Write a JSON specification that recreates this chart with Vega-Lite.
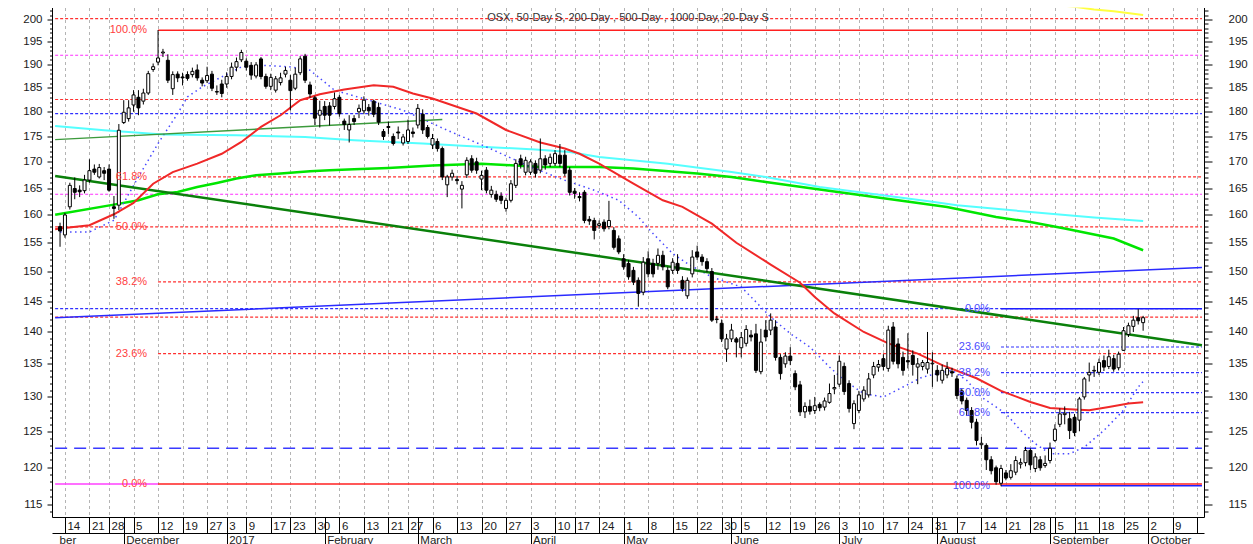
{
"$schema":"https://vega.github.io/schema/vega-lite/v6.json",
"width":1152,"height":509.5,
"autosize":{"type":"none"},
"padding":{"left":52,"top":7.5,"right":49,"bottom":27},
"background":"white",
"title":{"text":"OSX, 50-Day S, 200-Day , 500-Day , 1000-Day, 20-Day S","anchor":"middle","frame":"group","offset":-9,"dy":12,"baseline":"middle","fontSize":11,"font":"Liberation Sans","fontWeight":"normal","color":"#333333"},
"config":{"font":"Liberation Sans","view":{"stroke":null},"axis":{"labelFont":"Liberation Sans","labelFontSize":11.5,"labelColor":"#1a1a1a","tickColor":"#000000","domainColor":"#000000","labelOverlap":false,"labelFlush":false,"labelBound":false}},
"datasets":{
"candles":[
{"i":-1,"o":157.9,"h":158.6,"l":154.3,"c":157.1},
{"i":0,"o":156.4,"h":160.4,"l":155.9,"c":160.0},
{"i":1,"o":161.5,"h":166.0,"l":161.0,"c":165.5},
{"i":2,"o":164.9,"h":167.0,"l":162.9,"c":164.2},
{"i":3,"o":164.6,"h":165.5,"l":163.3,"c":164.3},
{"i":4,"o":164.5,"h":167.5,"l":164.0,"c":166.5},
{"i":5,"o":166.5,"h":170.5,"l":166.0,"c":168.3},
{"i":6,"o":168.6,"h":169.5,"l":167.5,"c":168.0},
{"i":7,"o":167.1,"h":169.6,"l":166.8,"c":168.9},
{"i":8,"o":168.3,"h":169.0,"l":166.5,"c":167.8},
{"i":9,"o":168.6,"h":169.5,"l":164.3,"c":164.6},
{"i":10,"o":161.5,"h":163.5,"l":159.3,"c":161.2},
{"i":11,"o":161.8,"h":177.5,"l":160.9,"c":176.25},
{"i":12,"o":177.8,"h":182.4,"l":177.5,"c":179.9},
{"i":13,"o":178.6,"h":182.4,"l":178.0,"c":180.8},
{"i":14,"o":181.4,"h":184.5,"l":180.0,"c":183.5},
{"i":15,"o":183.0,"h":184.5,"l":179.3,"c":180.8},
{"i":16,"o":182.2,"h":184.8,"l":181.5,"c":183.9},
{"i":17,"o":183.9,"h":188.6,"l":183.5,"c":188.0},
{"i":18,"o":188.9,"h":190.2,"l":188.4,"c":189.5},
{"i":19,"o":190.5,"h":197.6,"l":189.8,"c":191.4},
{"i":20,"o":192.5,"h":193.4,"l":191.6,"c":192.7},
{"i":21,"o":190.9,"h":192.2,"l":186.0,"c":186.6},
{"i":22,"o":184.8,"h":188.5,"l":183.5,"c":187.8},
{"i":23,"o":187.9,"h":188.5,"l":186.2,"c":187.1},
{"i":24,"o":187.3,"h":188.2,"l":185.5,"c":187.1},
{"i":25,"o":187.8,"h":188.5,"l":186.5,"c":187.0},
{"i":26,"o":187.8,"h":189.3,"l":187.2,"c":188.5},
{"i":27,"o":188.8,"h":190.0,"l":186.5,"c":187.1},
{"i":28,"o":186.6,"h":187.2,"l":185.3,"c":186.0},
{"i":29,"o":186.5,"h":189.5,"l":186.0,"c":187.6},
{"i":30,"o":187.9,"h":188.6,"l":184.3,"c":184.9},
{"i":31,"o":184.2,"h":185.5,"l":183.5,"c":184.1},
{"i":32,"o":185.8,"h":186.7,"l":183.0,"c":183.8},
{"i":33,"o":185.8,"h":188.3,"l":185.0,"c":187.4},
{"i":34,"o":187.4,"h":190.4,"l":186.8,"c":189.4},
{"i":35,"o":189.4,"h":191.5,"l":188.5,"c":190.6},
{"i":36,"o":191.0,"h":193.2,"l":190.5,"c":192.6},
{"i":37,"o":190.7,"h":191.3,"l":188.7,"c":189.4},
{"i":38,"o":189.8,"h":190.5,"l":186.7,"c":187.7},
{"i":39,"o":187.5,"h":190.5,"l":187.0,"c":189.9},
{"i":40,"o":191.2,"h":191.6,"l":186.8,"c":187.4},
{"i":41,"o":187.4,"h":188.0,"l":184.8,"c":185.3},
{"i":42,"o":185.3,"h":188.0,"l":184.5,"c":187.2},
{"i":43,"o":184.5,"h":187.5,"l":184.0,"c":186.9},
{"i":44,"o":186.1,"h":188.2,"l":185.5,"c":187.1},
{"i":45,"o":187.9,"h":189.5,"l":187.2,"c":188.7},
{"i":46,"o":186.6,"h":187.7,"l":180.3,"c":184.4},
{"i":47,"o":184.9,"h":189.3,"l":184.5,"c":187.9},
{"i":48,"o":188.2,"h":191.8,"l":187.7,"c":191.2},
{"i":49,"o":191.8,"h":192.3,"l":186.0,"c":186.6},
{"i":50,"o":185.6,"h":186.3,"l":182.9,"c":183.7},
{"i":51,"o":182.9,"h":183.3,"l":177.3,"c":178.7},
{"i":52,"o":179.3,"h":182.3,"l":176.8,"c":180.3},
{"i":53,"o":181.1,"h":182.2,"l":178.3,"c":179.3},
{"i":54,"o":181.2,"h":182.0,"l":177.2,"c":179.3},
{"i":55,"o":181.1,"h":184.0,"l":180.5,"c":182.7},
{"i":56,"o":183.0,"h":183.5,"l":179.0,"c":179.6},
{"i":57,"o":178.1,"h":178.6,"l":176.3,"c":177.4},
{"i":58,"o":176.3,"h":179.3,"l":173.8,"c":177.4},
{"i":59,"o":178.6,"h":179.3,"l":177.3,"c":178.0},
{"i":60,"o":180.0,"h":181.5,"l":178.7,"c":180.7},
{"i":61,"o":180.2,"h":183.2,"l":179.5,"c":182.4},
{"i":62,"o":180.9,"h":181.6,"l":179.2,"c":180.2},
{"i":63,"o":182.2,"h":182.5,"l":178.9,"c":179.5},
{"i":64,"o":180.9,"h":181.9,"l":177.3,"c":177.9},
{"i":65,"o":176.0,"h":176.5,"l":174.3,"c":175.0},
{"i":66,"o":177.0,"h":178.0,"l":175.5,"c":176.8},
{"i":67,"o":175.0,"h":175.6,"l":173.2,"c":173.6},
{"i":68,"o":175.9,"h":177.0,"l":174.5,"c":175.7},
{"i":69,"o":173.7,"h":175.5,"l":173.2,"c":174.9},
{"i":70,"o":174.0,"h":178.4,"l":173.5,"c":176.3},
{"i":71,"o":175.9,"h":176.8,"l":174.8,"c":175.6},
{"i":72,"o":177.3,"h":181.6,"l":176.6,"c":180.7},
{"i":73,"o":179.5,"h":180.5,"l":175.5,"c":176.3},
{"i":74,"o":176.8,"h":177.3,"l":174.6,"c":175.0},
{"i":75,"o":173.3,"h":175.5,"l":172.5,"c":174.6},
{"i":76,"o":174.0,"h":174.6,"l":172.0,"c":172.6},
{"i":77,"o":172.6,"h":173.0,"l":166.5,"c":167.1},
{"i":78,"o":165.6,"h":167.5,"l":163.3,"c":167.1},
{"i":79,"o":167.1,"h":168.5,"l":166.4,"c":167.8},
{"i":80,"o":166.6,"h":167.3,"l":165.7,"c":166.4},
{"i":81,"o":164.8,"h":166.3,"l":161.2,"c":165.5},
{"i":82,"o":167.5,"h":170.9,"l":166.9,"c":170.3},
{"i":83,"o":170.6,"h":171.3,"l":167.9,"c":168.4},
{"i":84,"o":170.0,"h":170.8,"l":167.7,"c":168.4},
{"i":85,"o":166.7,"h":168.3,"l":164.6,"c":167.4},
{"i":86,"o":168.4,"h":169.0,"l":164.0,"c":164.6},
{"i":87,"o":163.8,"h":165.4,"l":163.2,"c":164.6},
{"i":88,"o":163.8,"h":164.5,"l":162.4,"c":162.9},
{"i":89,"o":163.5,"h":164.2,"l":162.0,"c":162.7},
{"i":90,"o":161.2,"h":163.2,"l":160.6,"c":162.7},
{"i":91,"o":162.7,"h":166.5,"l":162.3,"c":165.8},
{"i":92,"o":165.5,"h":170.5,"l":165.0,"c":169.7},
{"i":93,"o":170.6,"h":171.4,"l":168.7,"c":169.4},
{"i":94,"o":168.0,"h":171.0,"l":167.4,"c":170.3},
{"i":95,"o":168.0,"h":170.5,"l":167.5,"c":170.0},
{"i":96,"o":169.7,"h":170.3,"l":167.0,"c":167.8},
{"i":97,"o":168.4,"h":174.6,"l":167.8,"c":170.6},
{"i":98,"o":170.6,"h":171.3,"l":168.5,"c":169.4},
{"i":99,"o":169.7,"h":171.6,"l":169.0,"c":170.9},
{"i":100,"o":169.7,"h":172.3,"l":169.2,"c":171.6},
{"i":101,"o":171.3,"h":173.5,"l":169.0,"c":169.7},
{"i":102,"o":171.3,"h":172.3,"l":167.2,"c":167.8},
{"i":103,"o":168.4,"h":169.0,"l":163.6,"c":164.2},
{"i":104,"o":164.4,"h":165.0,"l":163.0,"c":164.0},
{"i":105,"o":163.4,"h":164.2,"l":162.5,"c":163.2},
{"i":106,"o":164.2,"h":164.6,"l":158.5,"c":159.0},
{"i":107,"o":159.2,"h":159.8,"l":158.2,"c":158.9},
{"i":108,"o":159.0,"h":159.5,"l":155.6,"c":157.2},
{"i":109,"o":158.1,"h":159.0,"l":157.5,"c":158.4},
{"i":110,"o":158.7,"h":159.2,"l":157.0,"c":157.5},
{"i":111,"o":157.9,"h":162.6,"l":157.4,"c":159.0},
{"i":112,"o":157.2,"h":157.8,"l":153.8,"c":154.2},
{"i":113,"o":155.7,"h":156.3,"l":153.0,"c":153.4},
{"i":114,"o":152.2,"h":153.0,"l":150.3,"c":150.8},
{"i":115,"o":151.4,"h":152.0,"l":148.6,"c":149.1},
{"i":116,"o":150.2,"h":150.8,"l":147.7,"c":148.2},
{"i":117,"o":148.5,"h":149.0,"l":144.1,"c":146.3},
{"i":118,"o":146.5,"h":152.5,"l":146.0,"c":151.6},
{"i":119,"o":152.2,"h":153.5,"l":149.0,"c":149.6},
{"i":120,"o":151.4,"h":152.2,"l":149.0,"c":149.6},
{"i":121,"o":151.4,"h":154.0,"l":150.3,"c":152.8},
{"i":122,"o":152.8,"h":153.6,"l":150.2,"c":150.8},
{"i":123,"o":150.2,"h":150.8,"l":147.0,"c":147.4},
{"i":124,"o":150.2,"h":152.3,"l":149.6,"c":151.6},
{"i":125,"o":151.4,"h":153.0,"l":149.6,"c":150.2},
{"i":126,"o":148.5,"h":149.2,"l":146.6,"c":147.1},
{"i":127,"o":145.9,"h":149.0,"l":145.4,"c":148.5},
{"i":128,"o":149.6,"h":153.7,"l":149.0,"c":152.5},
{"i":129,"o":153.4,"h":154.5,"l":152.0,"c":152.5},
{"i":130,"o":152.5,"h":153.0,"l":151.0,"c":151.7},
{"i":131,"o":151.7,"h":152.3,"l":149.9,"c":150.5},
{"i":132,"o":150.0,"h":150.6,"l":141.6,"c":141.9},
{"i":133,"o":142.0,"h":142.6,"l":141.4,"c":142.1},
{"i":134,"o":141.4,"h":142.0,"l":138.4,"c":138.9},
{"i":135,"o":137.3,"h":139.7,"l":135.3,"c":138.9},
{"i":136,"o":138.9,"h":141.3,"l":138.4,"c":140.3},
{"i":137,"o":138.9,"h":139.2,"l":136.0,"c":138.4},
{"i":138,"o":137.5,"h":140.0,"l":136.0,"c":139.1},
{"i":139,"o":138.2,"h":141.1,"l":137.7,"c":140.4},
{"i":140,"o":139.5,"h":140.3,"l":138.5,"c":139.2},
{"i":141,"o":139.7,"h":141.3,"l":133.6,"c":134.0},
{"i":142,"o":133.8,"h":140.5,"l":133.4,"c":138.4},
{"i":143,"o":140.3,"h":141.9,"l":138.5,"c":139.2},
{"i":144,"o":140.3,"h":143.0,"l":139.5,"c":141.9},
{"i":145,"o":140.8,"h":141.9,"l":135.5,"c":136.0},
{"i":146,"o":136.0,"h":136.5,"l":132.6,"c":133.5},
{"i":147,"o":135.0,"h":136.8,"l":134.4,"c":136.2},
{"i":148,"o":136.2,"h":137.6,"l":134.8,"c":135.5},
{"i":149,"o":133.5,"h":134.0,"l":131.0,"c":131.5},
{"i":150,"o":131.8,"h":132.4,"l":127.2,"c":127.8},
{"i":151,"o":127.8,"h":129.2,"l":126.9,"c":128.6},
{"i":152,"o":128.6,"h":129.6,"l":127.4,"c":127.9},
{"i":153,"o":128.0,"h":130.0,"l":127.5,"c":128.7},
{"i":154,"o":128.9,"h":129.2,"l":127.9,"c":128.4},
{"i":155,"o":128.5,"h":129.9,"l":128.0,"c":129.4},
{"i":156,"o":129.2,"h":132.0,"l":129.0,"c":130.5},
{"i":157,"o":131.2,"h":133.3,"l":130.4,"c":131.4},
{"i":158,"o":131.9,"h":136.3,"l":131.5,"c":135.4},
{"i":159,"o":134.6,"h":135.2,"l":130.3,"c":130.8},
{"i":160,"o":132.0,"h":132.5,"l":127.7,"c":128.3},
{"i":161,"o":126.1,"h":129.5,"l":125.3,"c":129.0},
{"i":162,"o":128.0,"h":130.9,"l":127.6,"c":130.3},
{"i":163,"o":129.7,"h":131.6,"l":129.3,"c":131.0},
{"i":164,"o":130.3,"h":133.6,"l":129.9,"c":132.7},
{"i":165,"o":133.3,"h":135.3,"l":132.8,"c":134.6},
{"i":166,"o":134.5,"h":135.6,"l":133.8,"c":134.9},
{"i":167,"o":135.8,"h":136.5,"l":134.0,"c":134.6},
{"i":168,"o":134.3,"h":141.0,"l":133.8,"c":140.3},
{"i":169,"o":140.8,"h":141.6,"l":134.9,"c":135.4},
{"i":170,"o":138.1,"h":139.0,"l":134.3,"c":135.0},
{"i":171,"o":136.0,"h":136.9,"l":133.2,"c":134.0},
{"i":172,"o":135.5,"h":139.8,"l":134.3,"c":135.3},
{"i":173,"o":136.3,"h":137.1,"l":133.2,"c":134.9},
{"i":174,"o":134.5,"h":135.9,"l":131.9,"c":135.0},
{"i":175,"o":134.6,"h":135.6,"l":134.0,"c":135.2},
{"i":176,"o":134.2,"h":140.0,"l":133.5,"c":135.2},
{"i":177,"o":135.0,"h":136.8,"l":131.5,"c":135.1},
{"i":178,"o":134.0,"h":134.8,"l":132.3,"c":133.3},
{"i":179,"o":132.5,"h":134.9,"l":132.0,"c":134.0},
{"i":180,"o":133.3,"h":135.3,"l":132.8,"c":134.3},
{"i":181,"o":133.8,"h":134.4,"l":133.0,"c":133.6},
{"i":182,"o":132.7,"h":133.2,"l":129.7,"c":130.2},
{"i":183,"o":130.9,"h":131.3,"l":128.9,"c":129.4},
{"i":184,"o":129.5,"h":129.9,"l":127.2,"c":128.0},
{"i":185,"o":128.0,"h":128.5,"l":125.4,"c":126.3},
{"i":186,"o":126.3,"h":126.8,"l":123.0,"c":123.7},
{"i":187,"o":123.1,"h":124.2,"l":122.5,"c":123.3},
{"i":188,"o":123.0,"h":123.3,"l":119.6,"c":121.0},
{"i":189,"o":121.0,"h":121.5,"l":119.0,"c":119.5},
{"i":190,"o":119.9,"h":120.2,"l":117.6,"c":118.0},
{"i":191,"o":117.8,"h":120.3,"l":117.4,"c":119.8},
{"i":192,"o":119.2,"h":119.6,"l":118.2,"c":118.5},
{"i":193,"o":118.6,"h":120.4,"l":118.3,"c":119.5},
{"i":194,"o":119.3,"h":121.5,"l":118.9,"c":120.9},
{"i":195,"o":120.4,"h":121.2,"l":119.8,"c":120.6},
{"i":196,"o":120.6,"h":122.8,"l":120.1,"c":122.3},
{"i":197,"o":122.3,"h":122.6,"l":119.6,"c":120.3},
{"i":198,"o":119.8,"h":121.9,"l":119.3,"c":121.4},
{"i":199,"o":121.0,"h":121.5,"l":119.5,"c":119.9},
{"i":200,"o":120.2,"h":121.6,"l":119.9,"c":120.5},
{"i":201,"o":120.9,"h":123.4,"l":120.5,"c":122.6},
{"i":202,"o":123.7,"h":126.0,"l":123.5,"c":125.3},
{"i":203,"o":126.0,"h":128.3,"l":125.6,"c":127.5},
{"i":204,"o":127.4,"h":128.6,"l":126.0,"c":127.6},
{"i":205,"o":126.8,"h":127.8,"l":123.9,"c":125.1},
{"i":206,"o":127.0,"h":127.5,"l":124.3,"c":124.8},
{"i":207,"o":126.6,"h":130.0,"l":125.0,"c":129.7},
{"i":208,"o":130.0,"h":133.0,"l":129.6,"c":132.7},
{"i":209,"o":133.3,"h":135.2,"l":132.3,"c":133.7},
{"i":210,"o":133.9,"h":134.7,"l":133.0,"c":134.0},
{"i":211,"o":133.7,"h":135.8,"l":133.3,"c":135.2},
{"i":212,"o":135.5,"h":136.3,"l":133.9,"c":134.5},
{"i":213,"o":134.6,"h":137.2,"l":134.2,"c":136.1},
{"i":214,"o":135.8,"h":136.4,"l":133.8,"c":134.2},
{"i":215,"o":134.4,"h":136.9,"l":134.0,"c":136.5},
{"i":216,"o":137.1,"h":140.8,"l":137.0,"c":140.2},
{"i":217,"o":139.6,"h":141.5,"l":139.2,"c":141.0},
{"i":218,"o":140.9,"h":142.6,"l":140.0,"c":141.9},
{"i":219,"o":142.3,"h":143.7,"l":141.2,"c":141.8},
{"i":220,"o":141.5,"h":142.6,"l":140.2,"c":142.3}
],
"levels":[
{"v":200.2,"from":-2,"to":232,"k":"redDot"},
{"v":182.54,"from":-2,"to":232,"k":"redDot"},
{"v":167.1,"from":19,"to":232,"k":"redDot"},
{"v":157.83,"from":-2,"to":232,"k":"redDot"},
{"v":148.23,"from":19,"to":232,"k":"redDot"},
{"v":142.41,"from":-2,"to":232,"k":"redDot"},
{"v":136.59,"from":19,"to":232,"k":"redDot"},
{"v":197.57,"from":19,"to":232,"k":"redSolid"},
{"v":117.69,"from":19,"to":232,"k":"redSolid"},
{"v":117.69,"from":-2,"to":19,"k":"magentaSolid"},
{"v":192.0,"from":-2,"to":232,"k":"magentaDot"},
{"v":163.83,"from":-2,"to":232,"k":"magentaDot"},
{"v":179.64,"from":-2,"to":232,"k":"blueDot"},
{"v":143.78,"from":-2,"to":232,"k":"blueDot"},
{"v":137.62,"from":191,"to":232,"k":"blueDot"},
{"v":133.66,"from":191,"to":232,"k":"blueDot"},
{"v":130.64,"from":191,"to":232,"k":"blueDot"},
{"v":127.7,"from":191,"to":232,"k":"blueDot"},
{"v":143.78,"from":191,"to":232,"k":"blueSolid"},
{"v":117.48,"from":191,"to":232,"k":"blueSolid"},
{"v":122.59,"from":-2,"to":232,"k":"blueDash"}
],
"lines":[
{"s":"ma50","i":-2,"v":157.4},{"s":"ma50","i":-1,"v":157.53},{"s":"ma50","i":5,"v":158.13},{"s":"ma50","i":10,"v":160.13},{"s":"ma50","i":14,"v":162.21},{"s":"ma50","i":18,"v":165.82},{"s":"ma50","i":22,"v":168.03},{"s":"ma50","i":27,"v":169.65},{"s":"ma50","i":32,"v":171.58},{"s":"ma50","i":36,"v":173.91},{"s":"ma50","i":40,"v":176.92},{"s":"ma50","i":44,"v":179.29},{"s":"ma50","i":48,"v":182.4},{"s":"ma50","i":52,"v":183.65},{"s":"ma50","i":57,"v":184.64},{"s":"ma50","i":63,"v":185.55},{"s":"ma50","i":67,"v":185.2},{"s":"ma50","i":71,"v":183.79},{"s":"ma50","i":75,"v":182.75},{"s":"ma50","i":84,"v":179.64},{"s":"ma50","i":90,"v":176.3},{"s":"ma50","i":97,"v":173.79},{"s":"ma50","i":102,"v":172.61},{"s":"ma50","i":105,"v":171.58},{"s":"ma50","i":109,"v":169.65},{"s":"ma50","i":116,"v":165.82},{"s":"ma50","i":122,"v":162.7},{"s":"ma50","i":126,"v":161.48},{"s":"ma50","i":132,"v":158.43},{"s":"ma50","i":137,"v":155.0},{"s":"ma50","i":144,"v":151.2},{"s":"ma50","i":150,"v":148.1},{"s":"ma50","i":153,"v":145.71},{"s":"ma50","i":157,"v":143.0},{"s":"ma50","i":163,"v":140.0},{"s":"ma50","i":168,"v":138.2},{"s":"ma50","i":174,"v":136.59},{"s":"ma50","i":179,"v":134.8},{"s":"ma50","i":186,"v":132.8},{"s":"ma50","i":191,"v":130.9},{"s":"ma50","i":197,"v":129.25},{"s":"ma50","i":201,"v":128.37},{"s":"ma50","i":205,"v":128.18},{"s":"ma50","i":209,"v":128.03},{"s":"ma50","i":213,"v":128.52},{"s":"ma50","i":217,"v":129.02},{"s":"ma50","i":220,"v":129.21},
{"s":"ma200","i":-2,"v":160.04},{"s":"ma200","i":10,"v":161.9},{"s":"ma200","i":15,"v":162.71},{"s":"ma200","i":19,"v":163.83},{"s":"ma200","i":23,"v":164.26},{"s":"ma200","i":27,"v":165.2},{"s":"ma200","i":31,"v":165.96},{"s":"ma200","i":35,"v":166.8},{"s":"ma200","i":39,"v":167.42},{"s":"ma200","i":44,"v":167.75},{"s":"ma200","i":50,"v":168.19},{"s":"ma200","i":54,"v":168.38},{"s":"ma200","i":59,"v":168.58},{"s":"ma200","i":66,"v":168.83},{"s":"ma200","i":75,"v":169.29},{"s":"ma200","i":85,"v":169.65},{"s":"ma200","i":91,"v":169.35},{"s":"ma200","i":97,"v":169.02},{"s":"ma200","i":109,"v":169.02},{"s":"ma200","i":116,"v":168.71},{"s":"ma200","i":129,"v":167.75},{"s":"ma200","i":136,"v":167.1},{"s":"ma200","i":143,"v":166.15},{"s":"ma200","i":154,"v":164.71},{"s":"ma200","i":170,"v":162.71},{"s":"ma200","i":180,"v":161.47},{"s":"ma200","i":190,"v":159.64},{"s":"ma200","i":197,"v":158.73},{"s":"ma200","i":204,"v":157.54},{"s":"ma200","i":214,"v":155.75},{"s":"ma200","i":220,"v":153.69},
{"s":"ma500","i":-2,"v":177.12},{"s":"ma500","i":8,"v":176.25},{"s":"ma500","i":20,"v":175.39},{"s":"ma500","i":35,"v":175.25},{"s":"ma500","i":49,"v":174.91},{"s":"ma500","i":59,"v":174.25},{"s":"ma500","i":73,"v":173.6},{"s":"ma500","i":82,"v":173.12},{"s":"ma500","i":96,"v":172.41},{"s":"ma500","i":103,"v":171.94},{"s":"ma500","i":109,"v":170.96},{"s":"ma500","i":123,"v":169.65},{"s":"ma500","i":136,"v":168.06},{"s":"ma500","i":143,"v":167.1},{"s":"ma500","i":154,"v":165.2},{"s":"ma500","i":177,"v":162.43},{"s":"ma500","i":182,"v":161.79},{"s":"ma500","i":197,"v":160.55},{"s":"ma500","i":210,"v":159.53},{"s":"ma500","i":220,"v":158.91},
{"s":"ma1000","i":200,"v":203.66},{"s":"ma1000","i":206,"v":202.9},{"s":"ma1000","i":210,"v":202.3},{"s":"ma1000","i":214,"v":201.9},{"s":"ma1000","i":220,"v":201.0},
{"s":"ma20","i":-1,"v":156.93},{"s":"ma20","i":5,"v":156.93},{"s":"ma20","i":10,"v":159.04},{"s":"ma20","i":15,"v":167.1},{"s":"ma20","i":19,"v":173.6},{"s":"ma20","i":23,"v":179.64},{"s":"ma20","i":25,"v":183.08},{"s":"ma20","i":28,"v":185.19},{"s":"ma20","i":32,"v":187.31},{"s":"ma20","i":36,"v":189.46},{"s":"ma20","i":40,"v":189.83},{"s":"ma20","i":46,"v":189.46},{"s":"ma20","i":50,"v":188.75},{"s":"ma20","i":55,"v":184.49},{"s":"ma20","i":62,"v":182.4},{"s":"ma20","i":69,"v":180.32},{"s":"ma20","i":78,"v":176.25},{"s":"ma20","i":86,"v":172.92},{"s":"ma20","i":95,"v":169.02},{"s":"ma20","i":102,"v":166.47},{"s":"ma20","i":108,"v":164.58},{"s":"ma20","i":113,"v":162.71},{"s":"ma20","i":117,"v":159.64},{"s":"ma20","i":120,"v":156.64},{"s":"ma20","i":124,"v":153.11},{"s":"ma20","i":127,"v":151.37},{"s":"ma20","i":132,"v":149.07},{"s":"ma20","i":138,"v":147.38},{"s":"ma20","i":140,"v":145.71},{"s":"ma20","i":144,"v":142.41},{"s":"ma20","i":148,"v":139.74},{"s":"ma20","i":152,"v":137.62},{"s":"ma20","i":156,"v":134.51},{"s":"ma20","i":159,"v":132.49},{"s":"ma20","i":163,"v":130.49},{"s":"ma20","i":167,"v":129.98},{"s":"ma20","i":171,"v":131.48},{"s":"ma20","i":175,"v":132.99},{"s":"ma20","i":181,"v":134.01},{"s":"ma20","i":184,"v":132.49},{"s":"ma20","i":187,"v":129.98},{"s":"ma20","i":192,"v":127.54},{"s":"ma20","i":195,"v":125.13},{"s":"ma20","i":198,"v":123.24},{"s":"ma20","i":201,"v":121.84},{"s":"ma20","i":205,"v":121.84},{"s":"ma20","i":208,"v":122.76},{"s":"ma20","i":212,"v":125.13},{"s":"ma20","i":216,"v":128.03},{"s":"ma20","i":219,"v":131.48},{"s":"ma20","i":220,"v":132.3},
{"s":"trendDark","i":-2,"v":167.3},{"s":"trendDark","i":232,"v":137.89},
{"s":"trendMid","i":-2,"v":174.37},{"s":"trendMid","i":77,"v":178.42},
{"s":"trendBlue","i":-2,"v":142.3},{"s":"trendBlue","i":232,"v":150.71}
],
"fib":[
{"set":"red","i":19,"v":197.57,"t":"100.0%"},{"set":"red","i":19,"v":167.1,"t":"61.8%"},{"set":"red","i":19,"v":157.83,"t":"50.0%"},{"set":"red","i":19,"v":148.23,"t":"38.2%"},{"set":"red","i":19,"v":136.59,"t":"23.6%"},{"set":"red","i":19,"v":117.69,"t":"0.0%"},
{"set":"blue","i":191,"v":143.78,"t":"0.0%"},{"set":"blue","i":191,"v":137.62,"t":"23.6%"},{"set":"blue","i":191,"v":133.66,"t":"38.2%"},{"set":"blue","i":191,"v":130.64,"t":"50.0%"},{"set":"blue","i":191,"v":127.7,"t":"61.8%"},{"set":"blue","i":191,"v":117.48,"t":"100.0%"}
]
},
"resolve":{"axis":{"x":"independent","y":"independent"}},
"layer":[
{"data":{"name":"levels"},"transform":[{"filter":"datum.k=='redDot'"}],
 "mark":{"type":"rule","color":"#ff3030","strokeWidth":1.2,"strokeDash":[3,2],"clip":true},
 "encoding":{"x":{"field":"from","type":"quantitative","scale":{"domain":[-1.62,231.4],"nice":false,"zero":false},"axis":{"orient":"bottom","offset":16,"domain":true,"ticks":false,"labels":false,"grid":false,"title":null}},"x2":{"field":"to"},"y":{"field":"v","type":"quantitative","scale":{"type":"log","domain":[113.35,202.75],"nice":false},"axis":null}}},
{"data":{"name":"levels"},"transform":[{"filter":"datum.k=='redSolid'"}],
 "mark":{"type":"rule","color":"#ff2020","strokeWidth":1.5,"clip":true},
 "encoding":{"x":{"field":"from","type":"quantitative","scale":{"domain":[-1.62,231.4],"nice":false,"zero":false},"axis":null},"x2":{"field":"to"},"y":{"field":"v","type":"quantitative","scale":{"type":"log","domain":[113.35,202.75],"nice":false},"axis":null}}},
{"data":{"name":"levels"},"transform":[{"filter":"datum.k=='magentaSolid'"}],
 "mark":{"type":"rule","color":"#ff40ff","strokeWidth":1.5,"clip":true},
 "encoding":{"x":{"field":"from","type":"quantitative","scale":{"domain":[-1.62,231.4],"nice":false,"zero":false},"axis":null},"x2":{"field":"to"},"y":{"field":"v","type":"quantitative","scale":{"type":"log","domain":[113.35,202.75],"nice":false},"axis":null}}},
{"data":{"name":"levels"},"transform":[{"filter":"datum.k=='magentaDot'"}],
 "mark":{"type":"rule","color":"#ff30ff","strokeWidth":1.2,"strokeDash":[3,2],"clip":true},
 "encoding":{"x":{"field":"from","type":"quantitative","scale":{"domain":[-1.62,231.4],"nice":false,"zero":false},"axis":null},"x2":{"field":"to"},"y":{"field":"v","type":"quantitative","scale":{"type":"log","domain":[113.35,202.75],"nice":false},"axis":null}}},
{"data":{"name":"levels"},"transform":[{"filter":"datum.k=='blueDot'"}],
 "mark":{"type":"rule","color":"#3030ff","strokeWidth":1.2,"strokeDash":[3,2],"clip":true},
 "encoding":{"x":{"field":"from","type":"quantitative","scale":{"domain":[-1.62,231.4],"nice":false,"zero":false},"axis":null},"x2":{"field":"to"},"y":{"field":"v","type":"quantitative","scale":{"type":"log","domain":[113.35,202.75],"nice":false},"axis":null}}},
{"data":{"name":"levels"},"transform":[{"filter":"datum.k=='blueSolid'"}],
 "mark":{"type":"rule","color":"#2020ff","strokeWidth":1.5,"clip":true},
 "encoding":{"x":{"field":"from","type":"quantitative","scale":{"domain":[-1.62,231.4],"nice":false,"zero":false},"axis":null},"x2":{"field":"to"},"y":{"field":"v","type":"quantitative","scale":{"type":"log","domain":[113.35,202.75],"nice":false},"axis":null}}},
{"data":{"name":"levels"},"transform":[{"filter":"datum.k=='blueDash'"}],
 "mark":{"type":"rule","color":"#3a3aff","strokeWidth":1.5,"strokeDash":[12,7],"clip":true},
 "encoding":{"x":{"field":"from","type":"quantitative","scale":{"domain":[-1.62,231.4],"nice":false,"zero":false},"axis":null},"x2":{"field":"to"},"y":{"field":"v","type":"quantitative","scale":{"type":"log","domain":[113.35,202.75],"nice":false},"axis":null}}},
{"data":{"name":"lines"},"transform":[{"filter":"datum.s=='ma500'"}],
 "mark":{"type":"line","color":"#55ffff","strokeWidth":2,"clip":true},
 "encoding":{"x":{"field":"i","type":"quantitative","scale":{"domain":[-1.62,231.4],"nice":false,"zero":false},"axis":null},"y":{"field":"v","type":"quantitative","scale":{"type":"log","domain":[113.35,202.75],"nice":false},"axis":{"orient":"left","values":[114,116,117,118,119,121,122,123,124,126,127,128,129,131,132,133,134,136,137,138,139,141,142,143,144,146,147,148,149,151,152,153,154,156,157,158,159,161,162,163,164,166,167,168,169,171,172,173,174,176,177,178,179,181,182,183,184,186,187,188,189,191,192,193,194,196,197,198,199,201,202],"labels":false,"domain":false,"grid":false,"tickSize":2.5,"title":null}}}},
{"data":{"name":"lines"},"transform":[{"filter":"datum.s=='ma200'"}],
 "mark":{"type":"line","color":"#00e600","strokeWidth":2.5,"clip":true},
 "encoding":{"x":{"field":"i","type":"quantitative","scale":{"domain":[-1.62,231.4],"nice":false,"zero":false},"axis":null},"y":{"field":"v","type":"quantitative","scale":{"type":"log","domain":[113.35,202.75],"nice":false},"axis":{"orient":"right","values":[114,116,117,118,119,121,122,123,124,126,127,128,129,131,132,133,134,136,137,138,139,141,142,143,144,146,147,148,149,151,152,153,154,156,157,158,159,161,162,163,164,166,167,168,169,171,172,173,174,176,177,178,179,181,182,183,184,186,187,188,189,191,192,193,194,196,197,198,199,201,202],"labels":false,"domain":false,"grid":false,"tickSize":4,"title":null}}}},
{"data":{"name":"lines"},"transform":[{"filter":"datum.s=='ma1000'"}],
 "mark":{"type":"line","color":"#ffff40","strokeWidth":2,"clip":true},
 "encoding":{"x":{"field":"i","type":"quantitative","scale":{"domain":[-1.62,231.4],"nice":false,"zero":false},"axis":null},"y":{"field":"v","type":"quantitative","scale":{"type":"log","domain":[113.35,202.75],"nice":false},"axis":null}}},
{"data":{"name":"lines"},"transform":[{"filter":"datum.s=='ma20'"}],
 "mark":{"type":"line","color":"#4848ff","strokeWidth":1.5,"strokeDash":[1.5,3.5],"clip":true},
 "encoding":{"x":{"field":"i","type":"quantitative","scale":{"domain":[-1.62,231.4],"nice":false,"zero":false},"axis":null},"y":{"field":"v","type":"quantitative","scale":{"type":"log","domain":[113.35,202.75],"nice":false},"axis":null}}},
{"data":{"name":"lines"},"transform":[{"filter":"datum.s=='trendMid'"}],
 "mark":{"type":"line","color":"#3c9a3c","strokeWidth":1.5,"clip":true},
 "encoding":{"x":{"field":"i","type":"quantitative","scale":{"domain":[-1.62,231.4],"nice":false,"zero":false},"axis":null},"y":{"field":"v","type":"quantitative","scale":{"type":"log","domain":[113.35,202.75],"nice":false},"axis":null}}},
{"data":{"name":"lines"},"transform":[{"filter":"datum.s=='trendBlue'"}],
 "mark":{"type":"line","color":"#2a2aff","strokeWidth":1.5,"clip":true},
 "encoding":{"x":{"field":"i","type":"quantitative","scale":{"domain":[-1.62,231.4],"nice":false,"zero":false},"axis":null},"y":{"field":"v","type":"quantitative","scale":{"type":"log","domain":[113.35,202.75],"nice":false},"axis":null}}},
{"data":{"name":"lines"},"transform":[{"filter":"datum.s=='trendDark'"}],
 "mark":{"type":"line","color":"#0a800a","strokeWidth":2.5,"clip":true},
 "encoding":{"x":{"field":"i","type":"quantitative","scale":{"domain":[-1.62,231.4],"nice":false,"zero":false},"axis":null},"y":{"field":"v","type":"quantitative","scale":{"type":"log","domain":[113.35,202.75],"nice":false},"axis":null}}},
{"data":{"name":"lines"},"transform":[{"filter":"datum.s=='ma50'"}],
 "mark":{"type":"line","color":"#f02828","strokeWidth":2,"clip":true},
 "encoding":{"x":{"field":"i","type":"quantitative","scale":{"domain":[-1.62,231.4],"nice":false,"zero":false},"axis":null},"y":{"field":"v","type":"quantitative","scale":{"type":"log","domain":[113.35,202.75],"nice":false},"axis":null}}},
{"data":{"name":"candles"},
 "mark":{"type":"rule","color":"#000000","strokeWidth":1,"clip":true},
 "encoding":{"x":{"field":"i","type":"quantitative","scale":{"domain":[-1.62,231.4],"nice":false,"zero":false},"axis":{"orient":"bottom","values":[0,5,9,14,19,24,29,33,37,42,46,51,56,61,66,70,75,80,85,90,95,100,104,109,114,119,124,129,134,138,143,148,153,158,162,167,172,177,182,187,192,197,202,206,211,216,221,226,231],"labelExpr":"['14','21','28','5','12','19','27','3','9','17','23','30','6','13','21','27','6','13','20','27','3','10','17','24','1','8','15','22','30','5','12','19','26','3','10','17','24','31','7','14','21','28','5','11','18','25','2','9',''][indexof([0,5,9,14,19,24,29,33,37,42,46,51,56,61,66,70,75,80,85,90,95,100,104,109,114,119,124,129,134,138,143,148,153,158,162,167,172,177,182,187,192,197,202,206,211,216,221,226,231],datum.value)]","grid":true,"gridColor":"#b4b4b4","gridDash":[3,3],"gridWidth":1,"tickSize":16,"labelAlign":"left","labelBaseline":"middle","labelPadding":-7,"labelOffset":2,"domain":true,"title":null}},
  "y":{"field":"l","type":"quantitative","scale":{"type":"log","domain":[113.35,202.75],"nice":false},"axis":{"orient":"left","values":[115,120,125,130,135,140,145,150,155,160,165,170,175,180,185,190,195,200],"format":"d","tickSize":5,"labelPadding":5,"grid":false,"domain":true,"title":null}},
  "y2":{"field":"h"}}},
{"data":{"name":"candles"},
 "mark":{"type":"bar","width":3,"stroke":"#000000","strokeWidth":1,"clip":true},
 "encoding":{"x":{"field":"i","type":"quantitative","scale":{"domain":[-1.62,231.4],"nice":false,"zero":false},"axis":{"orient":"bottom","values":[-1.6,12,33,53,72,95,114,136,158,178,201,221],"labelExpr":"['ber','December','2017','February','March','April','May','June','July','August','September','October'][indexof([-1.6,12,33,53,72,95,114,136,158,178,201,221],datum.value)]","grid":false,"domain":false,"tickSize":27,"tickOpacity":{"condition":{"test":"datum.value < 0","value":0},"value":1},"labelAlign":"left","labelBaseline":"middle","labelPadding":-4,"labelOffset":2,"title":null}},
  "y":{"field":"o","type":"quantitative","scale":{"type":"log","domain":[113.35,202.75],"nice":false},"axis":{"orient":"right","values":[115,120,125,130,135,140,145,150,155,160,165,170,175,180,185,190,195,200],"format":"d","tickSize":8,"labelPadding":16,"grid":false,"domain":true,"title":null}},
  "y2":{"field":"c"},
  "fill":{"condition":{"test":"datum.c >= datum.o","value":"#ffffff"},"value":"#000000"}}},
{"data":{"name":"fib"},"transform":[{"filter":"datum.set=='red'"}],
 "mark":{"type":"text","align":"right","baseline":"middle","dx":-11,"fontSize":11,"font":"Liberation Sans","color":"#ff4040"},
 "encoding":{"x":{"field":"i","type":"quantitative","scale":{"domain":[-1.62,231.4],"nice":false,"zero":false},"axis":null},"y":{"field":"v","type":"quantitative","scale":{"type":"log","domain":[113.35,202.75],"nice":false},"axis":null},"text":{"field":"t"}}},
{"data":{"name":"fib"},"transform":[{"filter":"datum.set=='blue'"}],
 "mark":{"type":"text","align":"right","baseline":"middle","dx":-11,"fontSize":11,"font":"Liberation Sans","color":"#4a4aff"},
 "encoding":{"x":{"field":"i","type":"quantitative","scale":{"domain":[-1.62,231.4],"nice":false,"zero":false},"axis":null},"y":{"field":"v","type":"quantitative","scale":{"type":"log","domain":[113.35,202.75],"nice":false},"axis":null},"text":{"field":"t"}}}
]
}
